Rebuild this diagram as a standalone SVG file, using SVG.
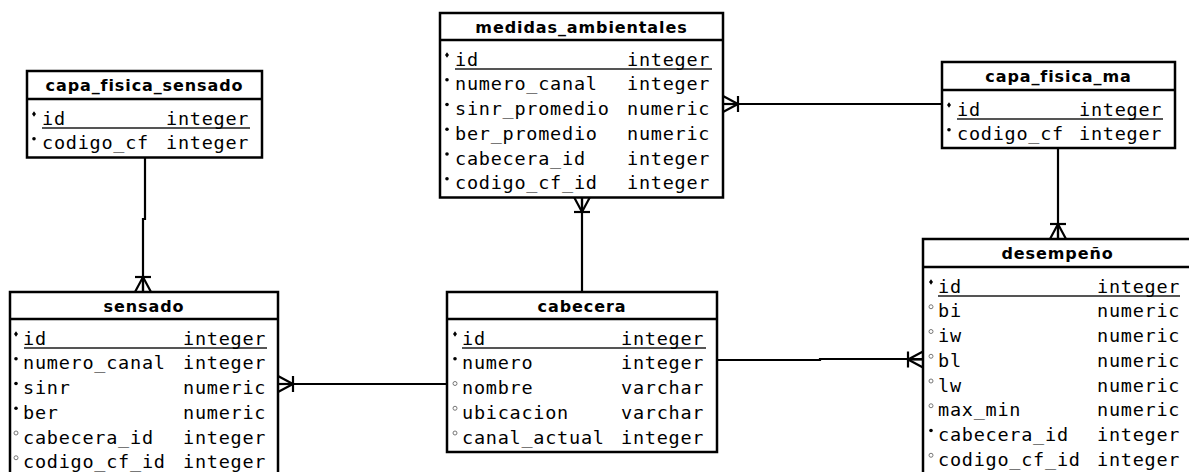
<svg xmlns="http://www.w3.org/2000/svg" width="1189" height="472" viewBox="0 0 1189 472">
  <style>
    .box { fill: #fff; stroke: #000; stroke-width: 2.5; }
    .sep { stroke: #000; stroke-width: 2.5; }
    .pk { stroke: #555; stroke-width: 2; }
    .title { font-family: "DejaVu Sans", "Liberation Sans", sans-serif; font-weight: bold; font-size: 16px; letter-spacing: 0.9px; text-anchor: middle; fill: #000; }
    .f { font-family: "DejaVu Sans Mono", "Liberation Mono", monospace; font-size: 18.5px; letter-spacing: 0.75px; fill: #000; }
    .wire { fill: none; stroke: #000; stroke-width: 2.2; }
  </style>
  <defs>
    <!-- primary key marker -->
    <path id="kd" d="M0,-2.8 L2,0 L0,2.8 L-2,0 Z" fill="#000"/>
    <!-- mandatory column marker -->
    <circle id="md" r="1.8" fill="#000"/>
    <!-- optional column marker -->
    <circle id="od" r="2" fill="#fff" stroke="#777" stroke-width="1"/>
    <!-- one-or-many end, entity edge at origin, line along +x -->
    <g id="many" fill="none" stroke="#000" stroke-width="2.2">
      <path d="M0,-8 L15,0 L0,8"/>
      <path d="M15,-8 V8"/>
      <path d="M0,0 H15"/>
    </g>
  </defs>
  <rect width="1189" height="472" fill="#fff"/>

  <!-- relationships -->
  <g id="connectors">
    <path class="wire" d="M145,157 V219 H143 V292"/>
    <path class="wire" d="M723,104 H942"/>
    <path class="wire" d="M582,197 V292"/>
    <path class="wire" d="M278,384 H447"/>
    <path class="wire" d="M717,360 H820 V359 H923"/>
    <path class="wire" d="M1058,147 V239"/>
    <use href="#many" transform="translate(143,292) rotate(-90)"/>
    <use href="#many" transform="translate(723,104)"/>
    <use href="#many" transform="translate(582,197) rotate(90)"/>
    <use href="#many" transform="translate(278,384)"/>
    <use href="#many" transform="translate(923,359.5) rotate(180)"/>
    <use href="#many" transform="translate(1058,239) rotate(-90)"/>
  </g>

  <!-- capa_fisica_sensado -->
  <g id="capa_fisica_sensado">
    <rect class="box" x="27" y="71" width="235" height="86.5"/>
    <line class="sep" x1="27" y1="99" x2="262" y2="99"/>
    <text class="title" x="144.5" y="91">capa_fisica_sensado</text>
    <line class="pk" x1="42" y1="128" x2="250" y2="128"/>
    <use href="#kd" x="34" y="114"/>
    <text class="f" x="42" y="124.5">id</text><text class="f" x="166" y="124.5">integer</text>
    <use href="#md" x="34" y="138.75"/>
    <text class="f" x="42" y="149.25">codigo_cf</text><text class="f" x="166" y="149.25">integer</text>
  </g>

  <!-- medidas_ambientales -->
  <g id="medidas_ambientales">
    <rect class="box" x="440" y="13" width="283" height="184.5"/>
    <line class="sep" x1="440" y1="40" x2="723" y2="40"/>
    <text class="title" x="581.5" y="33">medidas_ambientales</text>
    <line class="pk" x1="455" y1="69" x2="712" y2="69"/>
    <use href="#kd" x="447" y="55"/>
    <text class="f" x="455" y="65.5">id</text><text class="f" x="627" y="65.5">integer</text>
    <use href="#md" x="447" y="79.75"/>
    <text class="f" x="455" y="90.25">numero_canal</text><text class="f" x="627" y="90.25">integer</text>
    <use href="#md" x="447" y="104.5"/>
    <text class="f" x="455" y="115">sinr_promedio</text><text class="f" x="627" y="115">numeric</text>
    <use href="#md" x="447" y="129.25"/>
    <text class="f" x="455" y="139.75">ber_promedio</text><text class="f" x="627" y="139.75">numeric</text>
    <use href="#md" x="447" y="154"/>
    <text class="f" x="455" y="164.5">cabecera_id</text><text class="f" x="627" y="164.5">integer</text>
    <use href="#md" x="447" y="178.75"/>
    <text class="f" x="455" y="189.25">codigo_cf_id</text><text class="f" x="627" y="189.25">integer</text>
  </g>

  <!-- capa_fisica_ma -->
  <g id="capa_fisica_ma">
    <rect class="box" x="942" y="62" width="233" height="86"/>
    <line class="sep" x1="942" y1="90" x2="1175" y2="90"/>
    <text class="title" x="1058.5" y="82">capa_fisica_ma</text>
    <line class="pk" x1="957" y1="119" x2="1163" y2="119"/>
    <use href="#kd" x="949" y="105"/>
    <text class="f" x="957" y="115.5">id</text><text class="f" x="1079" y="115.5">integer</text>
    <use href="#md" x="949" y="129.75"/>
    <text class="f" x="957" y="140.25">codigo_cf</text><text class="f" x="1079" y="140.25">integer</text>
  </g>

  <!-- sensado -->
  <g id="sensado">
    <rect class="box" x="10" y="292" width="268" height="186"/>
    <line class="sep" x1="10" y1="319" x2="278" y2="319"/>
    <text class="title" x="144" y="312">sensado</text>
    <line class="pk" x1="24" y1="348" x2="267" y2="348"/>
    <use href="#kd" x="16" y="334"/>
    <text class="f" x="23" y="344.5">id</text><text class="f" x="183" y="344.5">integer</text>
    <use href="#md" x="16" y="358.75"/>
    <text class="f" x="23" y="369.25">numero_canal</text><text class="f" x="183" y="369.25">integer</text>
    <use href="#md" x="16" y="383.5"/>
    <text class="f" x="23" y="394">sinr</text><text class="f" x="183" y="394">numeric</text>
    <use href="#md" x="16" y="408.25"/>
    <text class="f" x="23" y="418.75">ber</text><text class="f" x="183" y="418.75">numeric</text>
    <use href="#od" x="16" y="433"/>
    <text class="f" x="23" y="443.5">cabecera_id</text><text class="f" x="183" y="443.5">integer</text>
    <use href="#od" x="16" y="457.75"/>
    <text class="f" x="23" y="468.25">codigo_cf_id</text><text class="f" x="183" y="468.25">integer</text>
  </g>

  <!-- cabecera -->
  <g id="cabecera">
    <rect class="box" x="447" y="292" width="270" height="160"/>
    <line class="sep" x1="447" y1="319" x2="717" y2="319"/>
    <text class="title" x="582" y="312">cabecera</text>
    <line class="pk" x1="462" y1="348" x2="706" y2="348"/>
    <use href="#kd" x="455" y="334"/>
    <text class="f" x="462" y="344.5">id</text><text class="f" x="621" y="344.5">integer</text>
    <use href="#md" x="455" y="358.75"/>
    <text class="f" x="462" y="369.25">numero</text><text class="f" x="621" y="369.25">integer</text>
    <use href="#od" x="455" y="383.5"/>
    <text class="f" x="462" y="394">nombre</text><text class="f" x="621" y="394">varchar</text>
    <use href="#od" x="455" y="408.25"/>
    <text class="f" x="462" y="418.75">ubicacion</text><text class="f" x="621" y="418.75">varchar</text>
    <use href="#od" x="455" y="433"/>
    <text class="f" x="462" y="443.5">canal_actual</text><text class="f" x="621" y="443.5">integer</text>
  </g>

  <!-- desempeño -->
  <g id="desempeno">
    <rect class="box" x="923" y="239" width="269" height="236"/>
    <line class="sep" x1="923" y1="267" x2="1192" y2="267"/>
    <text class="title" x="1057.5" y="259">desempeño</text>
    <line class="pk" x1="938" y1="296" x2="1180" y2="296"/>
    <use href="#kd" x="931" y="282"/>
    <text class="f" x="938" y="292.5">id</text><text class="f" x="1097" y="292.5">integer</text>
    <use href="#od" x="931" y="306.75"/>
    <text class="f" x="938" y="317.25">bi</text><text class="f" x="1097" y="317.25">numeric</text>
    <use href="#od" x="931" y="331.5"/>
    <text class="f" x="938" y="342">iw</text><text class="f" x="1097" y="342">numeric</text>
    <use href="#od" x="931" y="356.25"/>
    <text class="f" x="938" y="366.75">bl</text><text class="f" x="1097" y="366.75">numeric</text>
    <use href="#od" x="931" y="381"/>
    <text class="f" x="938" y="391.5">lw</text><text class="f" x="1097" y="391.5">numeric</text>
    <use href="#od" x="931" y="405.75"/>
    <text class="f" x="938" y="416.25">max_min</text><text class="f" x="1097" y="416.25">numeric</text>
    <use href="#md" x="931" y="430.5"/>
    <text class="f" x="938" y="441">cabecera_id</text><text class="f" x="1097" y="441">integer</text>
    <use href="#od" x="931" y="455.25"/>
    <text class="f" x="938" y="465.75">codigo_cf_id</text><text class="f" x="1097" y="465.75">integer</text>
  </g>
</svg>
